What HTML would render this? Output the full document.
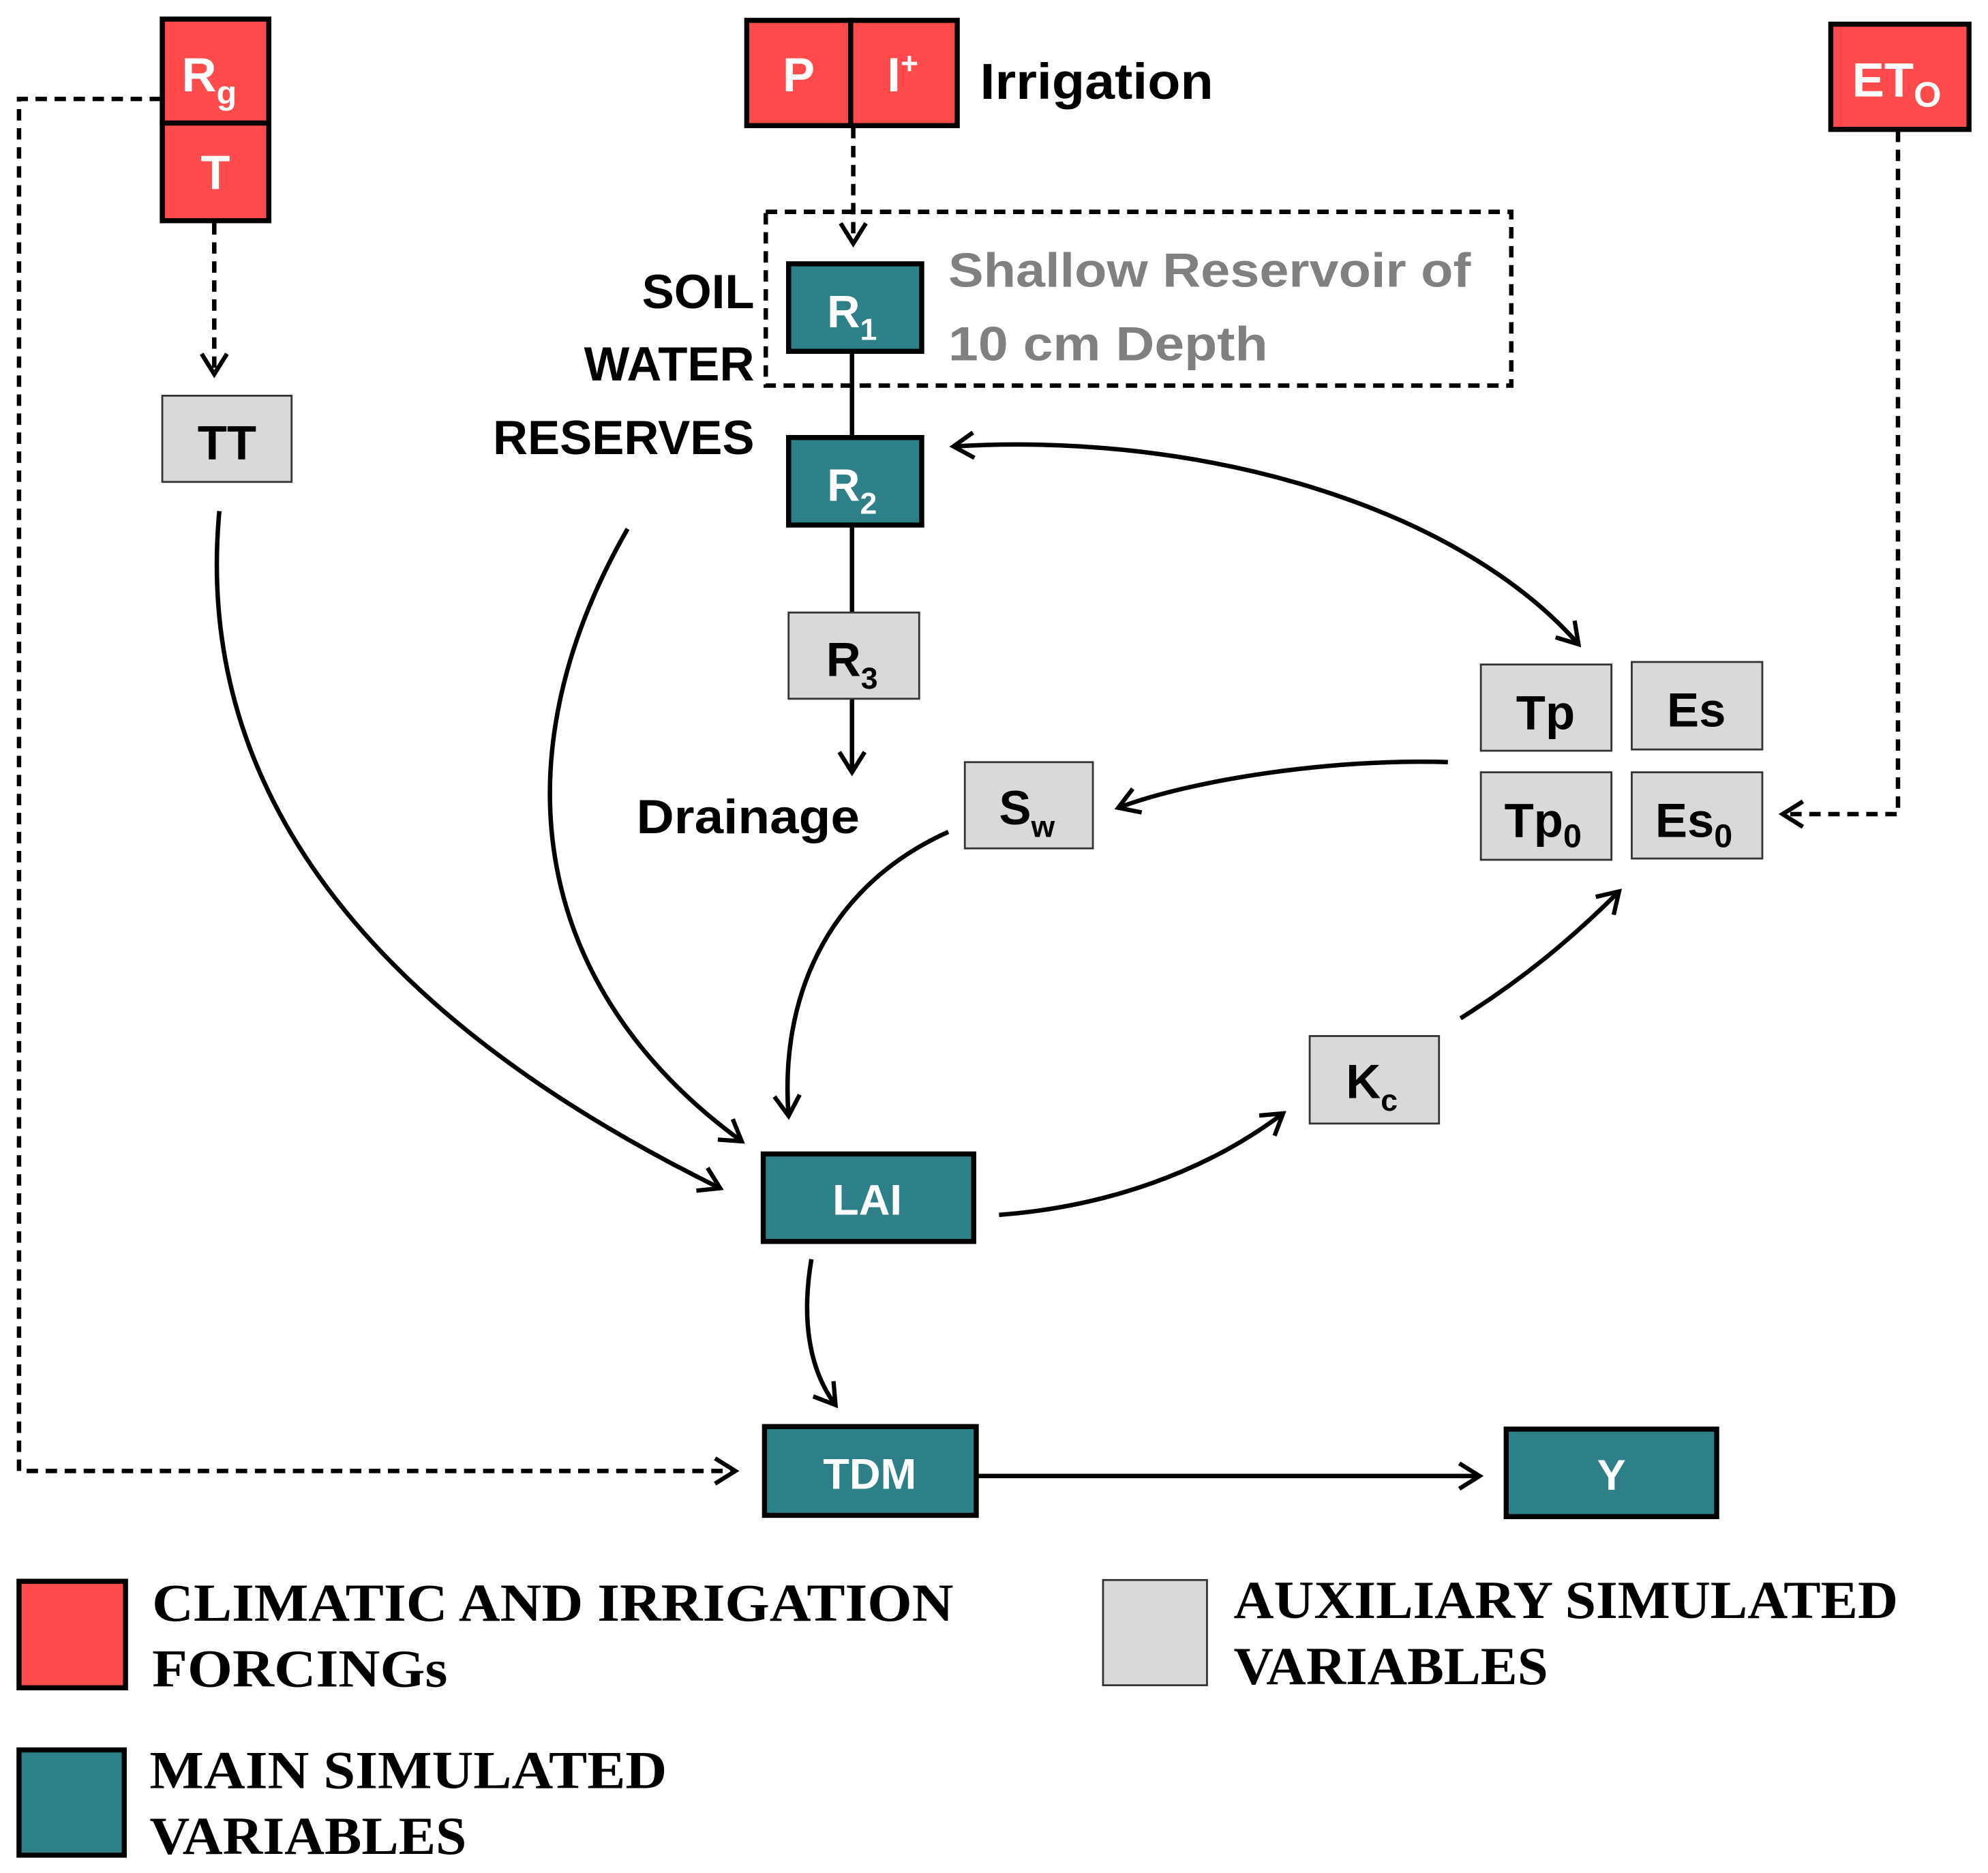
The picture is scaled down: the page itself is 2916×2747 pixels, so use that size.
<!DOCTYPE html>
<html><head><meta charset="utf-8"><style>
html,body{margin:0;padding:0;background:#fff;}
svg{display:block;}
.s{font-family:"Liberation Sans",sans-serif;font-weight:bold;}
.r{font-family:"Liberation Serif",serif;font-weight:bold;}
</style></head><body>
<svg width="2916" height="2747" viewBox="0 0 1568 1477" xmlns="http://www.w3.org/2000/svg">
<defs>
<marker id="a" markerWidth="24" markerHeight="24" refX="20" refY="12" orient="auto" markerUnits="userSpaceOnUse">
<polyline points="4,2 20,12 4,22" fill="none" stroke="#000" stroke-width="3.4"/>
</marker>
<marker id="b" markerWidth="24" markerHeight="24" refX="4" refY="12" orient="auto" markerUnits="userSpaceOnUse">
<polyline points="20,2 4,12 20,22" fill="none" stroke="#000" stroke-width="3.4"/>
</marker>
</defs>
<g fill="none" stroke="#000" stroke-width="3.5">
<g stroke-dasharray="9,6">
<polyline points="127,78 15,78 15,1160 580,1160" marker-end="url(#a)"/>
<line x1="169" y1="176" x2="169" y2="295" marker-end="url(#a)"/>
<line x1="673" y1="100" x2="673" y2="192" marker-end="url(#a)"/>
<polyline points="1497,103 1497,642 1406,642" marker-end="url(#a)"/>
<rect x="604" y="167" width="588" height="137"/>
</g>
<line x1="672" y1="277" x2="672" y2="344"/>
<line x1="672" y1="414" x2="672" y2="483"/>
<line x1="672" y1="551" x2="672" y2="609" marker-end="url(#a)"/>
<path d="M752,352 C950,340 1150,400 1245,508" marker-start="url(#b)" marker-end="url(#a)"/>
<path d="M1142,601 C1050,598 940,615 882,637" marker-end="url(#a)"/>
<path d="M748,656 C650,700 615,790 622,880" marker-end="url(#a)"/>
<path d="M173,403 C150,650 330,820 568,937" marker-end="url(#a)"/>
<path d="M495,417 C390,600 420,780 585,900" marker-end="url(#a)"/>
<path d="M788,958 C870,952 950,925 1012,878" marker-end="url(#a)"/>
<path d="M1152,803 C1200,773 1240,740 1277,703" marker-end="url(#a)"/>
<path d="M640,993 C632,1040 638,1080 659,1108" marker-end="url(#a)"/>
<line x1="771" y1="1164" x2="1167" y2="1164" marker-end="url(#a)"/>
</g>
<g fill="#FF4B4B" stroke="#000" stroke-width="4">
<rect x="128" y="15" width="84" height="82"/>
<rect x="128" y="97" width="84" height="77"/>
<rect x="589" y="16" width="82" height="83"/>
<rect x="671" y="16" width="84" height="83"/>
<rect x="1444" y="19" width="109" height="83"/>
<rect x="15" y="1247" width="84" height="84"/>
</g>
<g fill="#2E8088" stroke="#000" stroke-width="4">
<rect x="622" y="208" width="105" height="69"/>
<rect x="622" y="345" width="105" height="69"/>
<rect x="602" y="910" width="166" height="69"/>
<rect x="603" y="1125" width="167" height="70"/>
<rect x="1188" y="1127" width="166" height="69"/>
<rect x="15" y="1380" width="83" height="83"/>
</g>
<g fill="#D9D9D9" stroke="#333" stroke-width="1.5">
<rect x="128" y="312" width="102" height="68"/>
<rect x="622" y="483" width="103" height="68"/>
<rect x="761" y="601" width="101" height="68"/>
<rect x="1168" y="524" width="103" height="68"/>
<rect x="1287" y="522" width="103" height="69"/>
<rect x="1168" y="609" width="103" height="69"/>
<rect x="1287" y="609" width="103" height="68"/>
<rect x="1033" y="817" width="102" height="69"/>
<rect x="870" y="1246" width="82" height="83"/>
</g>
<g class="s" font-size="38" fill="#fff" text-anchor="middle">
<text x="165" y="72">R<tspan font-size="26" dy="10">g</tspan></text>
<text x="170" y="149">T</text>
<text x="630" y="72">P</text>
<text x="712" y="72">I<tspan font-size="24" dy="-14">+</tspan></text>
<text x="1496" y="76">ET<tspan font-size="28" dy="8">O</tspan></text>
<text x="672" y="258" font-size="36">R<tspan font-size="24" dy="10">1</tspan></text>
<text x="672" y="395" font-size="36">R<tspan font-size="24" dy="10">2</tspan></text>
<text x="684" y="958" font-size="34">LAI</text>
<text x="686" y="1174" font-size="34">TDM</text>
<text x="1271" y="1175" font-size="34">Y</text>
</g>
<g class="s" font-size="38" fill="#000" text-anchor="middle">
<text x="179" y="362">TT</text>
<text x="672" y="533">R<tspan font-size="24" dy="10">3</tspan></text>
<text x="810" y="650">S<tspan font-size="24" dy="10">w</tspan></text>
<text x="1219" y="575">Tp</text>
<text x="1338" y="573">Es</text>
<text x="1217" y="660">Tp<tspan font-size="26" dy="8">0</tspan></text>
<text x="1336" y="660">Es<tspan font-size="26" dy="8">0</tspan></text>
<text x="1082" y="866">K<tspan font-size="24" dy="10">c</tspan></text>
</g>
<g class="s" font-size="38" fill="#000">
<text x="773" y="78" font-size="40" textLength="184" lengthAdjust="spacingAndGlyphs">Irrigation</text>
<text x="502" y="657" textLength="176" lengthAdjust="spacingAndGlyphs">Drainage</text>
<g text-anchor="end"><text x="595" y="243">SOIL</text><text x="595" y="300">WATER</text><text x="595" y="358">RESERVES</text></g>
</g>
<g class="s" font-size="38" fill="#808080">
<text x="748" y="226" textLength="412" lengthAdjust="spacingAndGlyphs">Shallow Reservoir of</text>
<text x="748" y="284" textLength="252" lengthAdjust="spacingAndGlyphs">10 cm Depth</text>
</g>
<g class="r" font-size="42" fill="#000">
<text x="120" y="1278" textLength="632" lengthAdjust="spacingAndGlyphs">CLIMATIC AND IRRIGATION</text>
<text x="120" y="1330" textLength="233" lengthAdjust="spacingAndGlyphs">FORCINGs</text>
<text x="973" y="1276" textLength="524" lengthAdjust="spacingAndGlyphs">AUXILIARY SIMULATED</text>
<text x="973" y="1328" textLength="248" lengthAdjust="spacingAndGlyphs">VARIABLES</text>
<text x="118" y="1410" textLength="408" lengthAdjust="spacingAndGlyphs">MAIN SIMULATED</text>
<text x="118" y="1462" textLength="250" lengthAdjust="spacingAndGlyphs">VARIABLES</text>
</g>
</svg>
</body></html>
